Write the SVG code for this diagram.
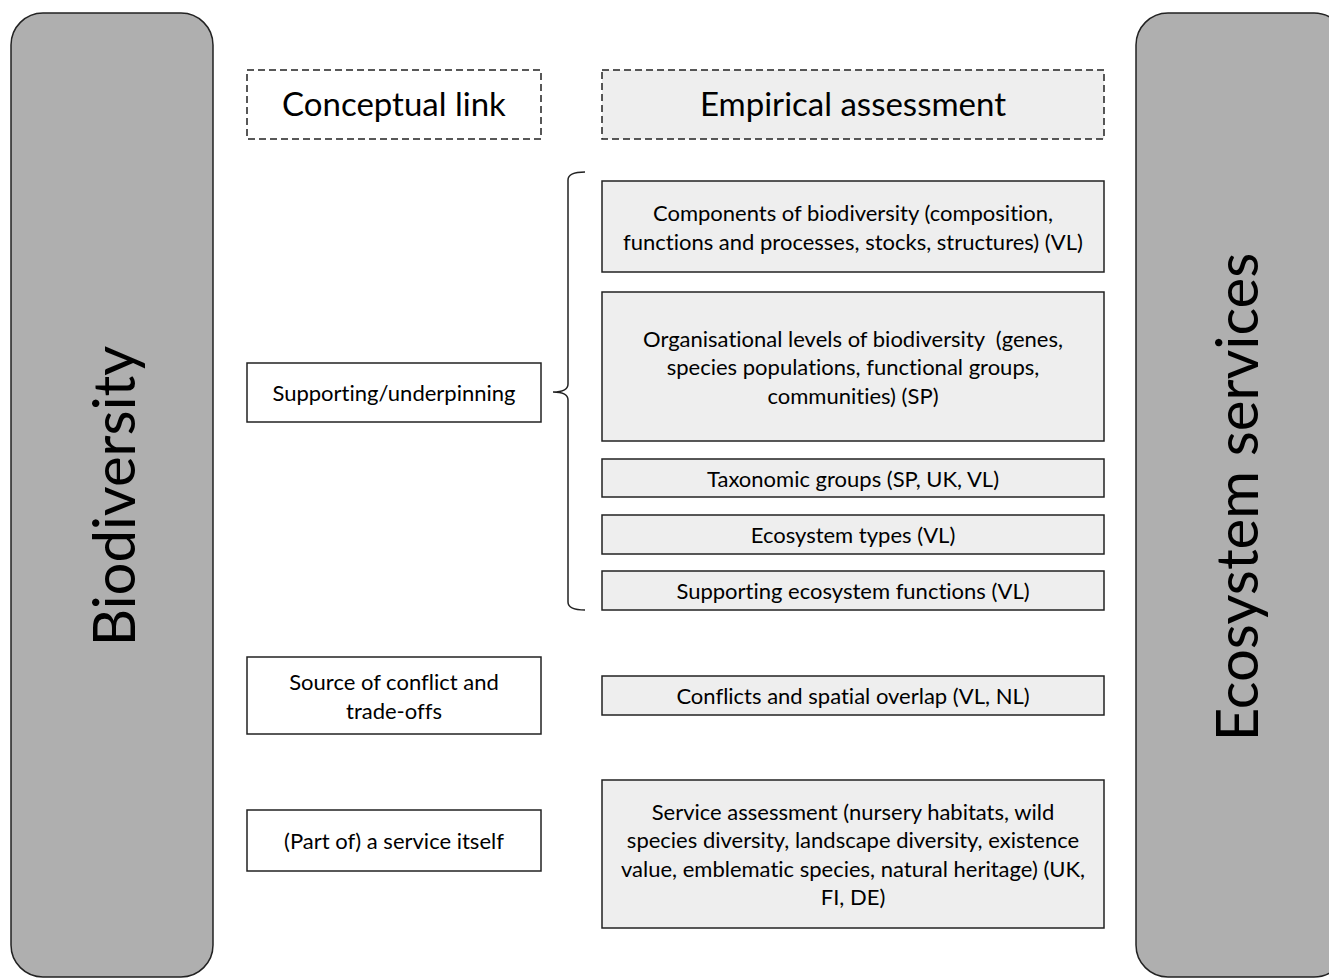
<svg xmlns="http://www.w3.org/2000/svg" width="1329" height="978" viewBox="0 0 1329 978">
<style>
.panel{fill:#afafaf;stroke:#222;stroke-width:1.5}
.box{fill:#fff;stroke:#222;stroke-width:1.5}
.gbox{fill:#eeeeee;stroke:#222;stroke-width:1.5}
.dash{stroke-dasharray:7 4}
text{font-family:Lato,"Liberation Sans",sans-serif;fill:#000;text-anchor:middle;font-variant-ligatures:none}
.t{font-size:22px}
.h{font-size:33px}
.big{font-size:58px}
</style>
<rect width="1329" height="978" fill="#fff"/>
<g id="biodiversity">
<rect class="panel" x="11" y="13" width="202" height="964" rx="32"/>
<text class="big" transform="translate(135,496) rotate(-90)">Biodiversity</text>
</g>
<g id="ecosystem-services">
<rect class="panel" x="1136" y="13" width="210" height="964" rx="32"/>
<text class="big" transform="translate(1258,497) rotate(-90)">Ecosystem services</text>
</g>
<g id="conceptual-link">
<rect class="box dash" x="247" y="70" width="294" height="69"/>
<text class="h" x="394" y="116">Conceptual link</text>
</g>
<g id="empirical-assessment">
<rect class="gbox dash" x="602" y="70" width="502" height="69"/>
<text class="h" x="853" y="116">Empirical assessment</text>
</g>
<g id="supporting">
<rect class="box" x="247" y="363" width="294" height="59"/>
<text class="t" x="394" y="401">Supporting/underpinning</text>
</g>
<g id="conflict">
<rect class="box" x="247" y="657" width="294" height="77"/>
<text class="t" x="394" y="690">Source of conflict and</text>
<text class="t" x="394" y="719">trade-offs</text>
</g>
<g id="service-itself">
<rect class="box" x="247" y="810" width="294" height="61"/>
<text class="t" x="394" y="849">(Part of) a service itself</text>
</g>
<g id="components">
<rect class="gbox" x="602" y="181" width="502" height="91"/>
<text class="t" x="853" y="221">Components of biodiversity (composition,</text>
<text class="t" x="853" y="250">functions and processes, stocks, structures) (VL)</text>
</g>
<g id="organisational">
<rect class="gbox" x="602" y="292" width="502" height="149"/>
<text class="t" x="853" y="347" xml:space="preserve">Organisational levels of biodiversity  (genes,</text>
<text class="t" x="853" y="375">species populations, functional groups,</text>
<text class="t" x="853" y="404">communities) (SP)</text>
</g>
<g id="taxonomic">
<rect class="gbox" x="602" y="459" width="502" height="38"/>
<text class="t" x="853" y="487">Taxonomic groups (SP, UK, VL)</text>
</g>
<g id="ecosystem-types">
<rect class="gbox" x="602" y="515" width="502" height="39"/>
<text class="t" x="853" y="543">Ecosystem types (VL)</text>
</g>
<g id="supporting-functions">
<rect class="gbox" x="602" y="571" width="502" height="39"/>
<text class="t" x="853" y="599">Supporting ecosystem functions (VL)</text>
</g>
<g id="conflicts-overlap">
<rect class="gbox" x="602" y="676" width="502" height="39"/>
<text class="t" x="853" y="704">Conflicts and spatial overlap (VL, NL)</text>
</g>
<g id="service-assessment">
<rect class="gbox" x="602" y="780" width="502" height="148"/>
<text class="t" x="853" y="820">Service assessment (nursery habitats, wild</text>
<text class="t" x="853" y="848">species diversity, landscape diversity, existence</text>
<text class="t" x="853" y="877">value, emblematic species, natural heritage) (UK,</text>
<text class="t" x="853" y="905">FI, DE)</text>
</g>
<g id="connectors">
<path d="M585,172 Q568,172 568,180 L568,384 Q568,392 553,392 Q568,392 568,400 L568,602 Q568,610 585,610" fill="none" stroke="#222" stroke-width="1.5"/>
</g>
</svg>
